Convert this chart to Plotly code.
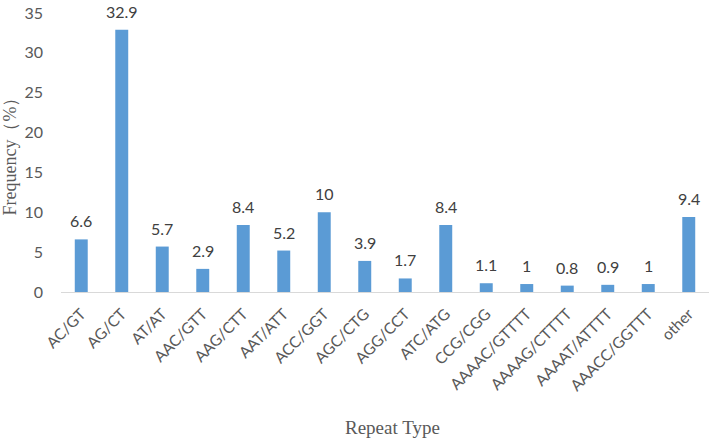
import plotly.graph_objects as go

categories = ["AC/GT", "AG/CT", "AT/AT", "AAC/GTT", "AAG/CTT", "AAT/ATT", "ACC/GGT",
              "AGC/CTG", "AGG/CCT", "ATC/ATG", "CCG/CGG", "AAAAC/GTTTT", "AAAAG/CTTTT",
              "AAAAT/ATTTT", "AAACC/GGTTT", "other"]
values = [6.6, 32.9, 5.7, 2.9, 8.4, 5.2, 10, 3.9, 1.7, 8.4, 1.1, 1, 0.8, 0.9, 1, 9.4]
y_ticks = [0, 5, 10, 15, 20, 25, 30, 35]

sans = "Lato, Open Sans, sans-serif"
serif = "Liberation Serif, Times New Roman, serif"

fig = go.Figure(go.Bar(
    x=categories, y=values,
    marker=dict(color="#5B9BD5", line=dict(width=0)),
    cliponaxis=False, hoverinfo="x+y",
))

annotations = [
    dict(x=c, y=v, xref="x", yref="y", text=str(v), showarrow=False,
         xanchor="center", yanchor="bottom", yshift=7,
         font=dict(family=sans, size=16, color="#404040"))
    for c, v in zip(categories, values)
]
annotations += [
    dict(text="Repeat Type", xref="paper", yref="paper", x=0.5, y=0,
         xshift=7, yshift=-135, xanchor="center", yanchor="middle", showarrow=False,
         font=dict(family=serif, size=19, color="#595959")),
    dict(text="Frequency（%）", xref="paper", yref="paper", x=0, y=0.5,
         xshift=-52, xanchor="center", yanchor="middle", textangle=-90, showarrow=False,
         font=dict(family=serif, size=18, color="#595959")),
]

fig.update_layout(
    width=709, height=438,
    margin=dict(l=61, r=0, t=13, b=146, autoexpand=False),
    plot_bgcolor="white", paper_bgcolor="white",
    bargap=0.68, showlegend=False,
    xaxis=dict(
        tickangle=-45, showgrid=False, showline=True, linecolor="#D9D9D9", linewidth=1,
        automargin=False, ticklabelstandoff=6,
        tickfont=dict(family=sans, size=15.5, color="#595959"),
    ),
    yaxis=dict(
        range=[0, 35], tickvals=y_ticks, showgrid=False, zeroline=False, showline=False,
        ticks="", ticklabelstandoff=17, automargin=False, ticklabeloverflow="allow",
        tickfont=dict(family=sans, size=16, color="#595959"),
    ),
    annotations=annotations,
)
fig.write_html("out.html", config={"displayModeBar": False},
               post_script="document.body.style.margin='0';document.body.style.overflow='hidden';")
